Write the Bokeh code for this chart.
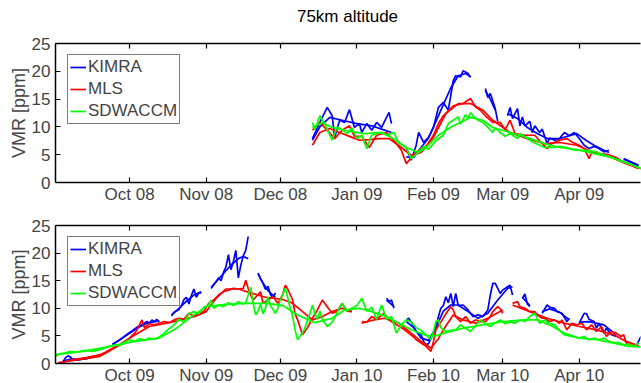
import math
from bokeh.plotting import figure
from bokeh.models import Range1d, FixedTicker, LinearAxis, Legend, LegendItem, Div
from bokeh.layouts import column
from bokeh.embed import file_html
from bokeh.resources import INLINE

GAP = None  # break in a series

# ---- axes ----
month_days = [30, 61, 91, 122, 153, 181, 212]  # days since 1 Sep
top_month_labels = ["Oct 08", "Nov 08", "Dec 08", "Jan 09", "Feb 09", "Mar 09", "Apr 09"]
bot_month_labels = ["Oct 09", "Nov 09", "Dec 09", "Jan 10", "Feb 10", "Mar 10", "Apr 10"]
y_ticks = [0, 5, 10, 15, 20, 25]
series_names = ["KIMRA", "MLS", "SDWACCM"]
series_colors = ["#0000ff", "#ff0000", "#00ff00"]
panel_title = "75km altitude"
y_label = "VMR [ppm]"

# ---- top panel (2008/09) : (day since 1 Sep, VMR) ----
top_kimra_raw = [(104, 7.9), (107, 10.8), (110, 13.5), (112, 12.0), (113, 8.1), (115, 11.2), (117, 10.8),
                 (119, 13.1), (121, 9.9), (123, 10.6), (124, 9.0), (126, 10.6), (128, 9.4), (130, 10.8),
                 (132, 9.9), (135, 12.6), (136, 10.6), GAP,
                 (142, 6.3), (144, 4.0), (146, 6.7), (147, 9.0), (149, 7.2), (151, 8.1), (153, 9.9),
                 (155, 13.5), (157, 14.4), (159, 13.0), (161, 18.3), (162, 19.2), (164, 19.0), (165, 20.1),
                 (167, 19.6), (168, 18.9), GAP,
                 (174, 16.9), (175, 15.3), (176, 16.0), (178, 13.3), (179, 11.0), GAP,
                 (183, 12.0), (184, 13.5), (185, 11.5), (187, 13.3), (188, 10.2), (189, 11.8), (190, 10.2),
                 (192, 11.0), (193, 9.0), (194, 10.2), (196, 9.0), (197, 9.6), (199, 7.0), (200, 8.0),
                 (202, 7.6), (204, 7.9), (206, 9.0), (208, 8.4), (210, 9.0), (212, 7.9), (214, 6.7),
                 (216, 6.1), (218, 6.5), (220, 6.1), (222, 5.5), (224, 5.8), GAP,
                 (230, 4.3), (232, 3.9), (234, 3.5), (236, 3.1)]
top_kimra_fit = [(104, 7.6), (107, 10.0), (111, 11.7), (116, 11.2), (122, 10.6), (128, 10.2), (132, 9.6),
                 (136, 9.0), GAP,
                 (142, 4.6), (145, 4.5), (148, 6.3), (151, 8.0), (154, 11.0), (157, 14.0), (160, 17.0),
                 (163, 19.2), (166, 19.6), (168, 19.0), GAP,
                 (174, 16.5), (176, 15.0), (178, 13.0), GAP,
                 (183, 12.4), (187, 11.5), (191, 9.9), (195, 8.8), (199, 7.9), (204, 7.9), (208, 8.4),
                 (211, 8.8), (215, 7.5), (218, 6.7), (222, 5.8), (224, 5.4), GAP,
                 (230, 4.2), (236, 3.0)]
top_mls_raw = [(104, 9.4), (107, 10.8), (110, 9.4), (113, 7.9), (116, 9.4), (119, 10.2), (121, 8.3),
               (124, 8.3), (127, 6.3), (130, 8.5), (134, 9.0), (138, 7.0), (140, 5.8), (142, 3.4),
               (145, 5.0), (148, 6.1), (150, 6.5), (153, 8.5), (155, 10.6), (157, 12.0), (161, 13.8),
               (165, 14.2), (168, 15.1), (170, 13.6), (172, 13.0), (174, 12.0), (177, 10.8), (180, 10.8),
               (182, 9.5), (184, 11.2), (186, 8.8), (190, 8.5), (194, 8.5), (196, 7.5), (199, 6.1),
               (201, 7.0), (204, 7.6), (207, 7.9), (209, 7.3), (212, 6.7), (214, 6.1), (216, 4.3),
               (217, 5.5), (220, 5.2), (224, 5.0), (227, 4.5), (230, 3.6), (233, 3.1), (236, 2.5)]
top_mls_fit = [(104, 6.7), (107, 9.0), (111, 9.7), (115, 9.0), (119, 8.3), (123, 7.6), (127, 7.7),
               (131, 7.9), (135, 7.9), (140, 6.3), (144, 4.9), (148, 5.4), (153, 8.1), (158, 12.4),
               (163, 14.2), (168, 14.2), (173, 13.0), (177, 11.2), (184, 9.0), (191, 7.9), (198, 7.0),
               (204, 7.2), (211, 6.7), (218, 5.4), (225, 4.5), (231, 3.4), (237, 2.5)]
top_wacc_raw = [(104, 10.8), (105, 9.5), (107, 12.0), (109, 10.5), (112, 7.6), (114, 10.0), (116, 9.5),
                (118, 8.8), (120, 9.8), (122, 7.9), (124, 8.5), (126, 6.1), (128, 8.5), (132, 9.0),
                (134, 8.5), (137, 9.0), (139, 7.0), (142, 6.3), (144, 4.3), (147, 5.5), (149, 6.5),
                (151, 6.0), (154, 7.5), (157, 8.5), (159, 10.6), (161, 11.2), (163, 11.8), (164, 10.5),
                (166, 12.2), (167, 11.5), (168, 12.6), (169, 12.0), (171, 11.2), (173, 10.8), (177, 9.0),
                (178, 9.8), (180, 9.0), (182, 8.3), (184, 8.8), (187, 7.9), (188, 8.8), (191, 7.9),
                (193, 7.3), (196, 6.7), (198, 6.3), (201, 6.3), (204, 6.5), (207, 6.3), (210, 5.8),
                (215, 5.8), (219, 5.5), (223, 4.8), (227, 4.2), (231, 3.6), (237, 2.5)]
top_wacc_fit = [(104, 9.9), (108, 10.8), (112, 9.9), (117, 9.4), (125, 8.8), (132, 9.0), (136, 8.1),
                (142, 6.3), (147, 5.4), (150, 6.3), (155, 8.5), (161, 10.2), (168, 11.7), (173, 11.2),
                (177, 9.9), (184, 9.0), (191, 8.1), (198, 7.0), (204, 6.3), (211, 5.9), (218, 5.2),
                (225, 4.5), (231, 3.5), (237, 2.6)]

# ---- bottom panel (2009/10) ----
bot_kimra_raw = [(3, 0.3), (4, 1.0), (5, 1.4), (6, 1.2), (7, 0.6), (9, 0.6), (11, 0.8), (13, 0.9),
                 (15, 1.2), (16, 1.4), GAP,
                 (23, 3.5), (25, 4.0), (27, 4.6), (29, 5.3), (31, 5.9), (33, 6.6), (35, 7.0), (37, 7.6),
                 (38, 7.3), (39, 7.9), (40, 7.6), (41, 8.0), (42, 7.5), GAP,
                 (47, 8.6), (48, 9.3), (50, 9.8), (51, 10.5), (52, 11.6), (53, 12.0), (54, 10.8),
                 (55, 12.3), (56, 13.5), (57, 12.0), (58, 12.8), (59, 12.8), GAP,
                 (63, 13.6), (64, 14.2), (65, 14.8), (66, 15.5), (67, 15.0), (68, 16.5), (69, 17.5),
                 (70, 19.7), (71, 17.0), (72, 18.5), (73, 20.5), (74, 15.5), (75, 17.8), (76, 19.5),
                 (77, 20.5), (78, 23.0), GAP,
                 (82, 16.4), (83, 15.3), (84, 14.5), (85, 13.4), (86, 14.0), (87, 12.5), (88, 11.8),
                 (89, 12.8), GAP,
                 (134, 11.8), (135, 11.2), (136, 11.5), (137, 10.0), GAP,
                 (142, 7.9), (143, 8.2), (144, 7.5), (146, 5.8), (148, 5.2), (149, 4.0), (150, 3.4),
                 (151, 3.6), (152, 4.6), (153, 5.5), (154, 6.7), (155, 8.5), (156, 10.0), (157, 10.5),
                 (158, 12.1), (159, 11.0), (160, 12.7), (161, 10.3), (162, 12.7), (163, 10.5), (165, 10.6),
                 (167, 9.7), (169, 8.5), (171, 8.8), (173, 8.5), (175, 9.7), (176, 12.4), (177, 14.5),
                 (178, 14.5), (180, 12.7), (181, 13.3), (183, 13.9), (184, 14.2), (185, 12.4), GAP,
                 (189, 11.8), (190, 12.6), (191, 10.8), (192, 10.3), GAP,
                 (197, 9.1), (199, 10.6), (200, 10.2), (202, 10.0), (203, 9.4), (205, 9.1), (207, 7.6),
                 (208, 8.2), GAP,
                 (212, 7.3), (214, 9.1), (215, 9.0), (216, 8.0), (218, 7.6), (219, 6.4), (220, 7.3),
                 (222, 5.5), (223, 6.4), (225, 5.2), (227, 4.9), GAP,
                 (235, 3.1), (237, 4.9)]
bot_kimra_fit = [(3, 0.4), (6, 0.8), (10, 0.8), (16, 1.3), GAP,
                 (23, 3.4), (28, 4.9), (33, 6.4), (37, 7.3), (42, 7.7), GAP,
                 (47, 8.8), (50, 10.0), (53, 11.3), (56, 12.4), (59, 13.0), GAP,
                 (63, 13.8), (67, 15.8), (71, 17.8), (74, 19.0), (76, 19.4), (78, 19.0), GAP,
                 (82, 16.2), (84, 14.6), (86, 13.2), (89, 12.0), GAP,
                 (134, 11.5), (137, 10.3), GAP,
                 (142, 7.6), (145, 6.5), (148, 4.6), (151, 4.2), (154, 6.5), (157, 9.5), (160, 10.6),
                 (163, 10.6), (167, 9.4), (171, 8.2), (175, 9.1), (179, 11.5), (183, 13.6), (185, 13.9), GAP,
                 (189, 12.0), (192, 10.5), GAP,
                 (197, 9.4), (200, 9.9), (204, 9.3), (208, 7.9), GAP,
                 (212, 7.5), (216, 7.6), (222, 7.0), (227, 5.2)]
bot_mls_raw = [(1, 0.1), (3, 0.2), (5, 0.5), (7, 0.7), (9, 0.8), (11, 1.0), (13, 1.1), (15, 1.3),
               (18, 1.6), (20, 2.0), (22, 2.5), (24, 3.0), (26, 3.4), (28, 4.0), (30, 4.6), (32, 5.5),
               (33, 6.1), (34, 7.0), (35, 7.9), (36, 6.5), (38, 7.2), (40, 7.0), (42, 7.3), (44, 7.6),
               (46, 7.4), (48, 7.9), (50, 8.2), (52, 8.0), (54, 9.1), (56, 8.6), (58, 9.0), (60, 9.4),
               (62, 10.9), (64, 11.5), (66, 12.4), (68, 13.0), (70, 13.3), (72, 13.6), (74, 13.5),
               (76, 13.6), (77, 15.1), (78, 13.6), (79, 12.4), (80, 11.5), (81, 12.0), (83, 13.0),
               (84, 10.9), (86, 11.5), (88, 12.1), (90, 10.9), (92, 12.5), (93, 14.2), (94, 13.5),
               (96, 11.5), (97, 9.0), (98, 7.9), (100, 5.2), (102, 6.5), (104, 8.2), (106, 9.7),
               (108, 11.5), (110, 10.3), (112, 9.1), (114, 9.4), (116, 10.9), (118, 9.5), (120, 9.4), GAP,
               (124, 7.6), (126, 7.5), (128, 8.5), (130, 8.0), (133, 9.1), (135, 7.9), (137, 7.3),
               (139, 6.8), (141, 6.2), (143, 5.5), (145, 4.8), (146, 4.3), (148, 3.7), (150, 3.1),
               (152, 2.2), (153, 4.0), (154, 6.1), (156, 7.5), (158, 9.0), (160, 10.3), (161, 9.7),
               (162, 8.5), (164, 7.6), (166, 8.5), (168, 7.3), (170, 7.9), (172, 7.6), (174, 7.6),
               (176, 8.5), (177, 9.4), (179, 10.3), (180, 9.9), (181, 9.1), GAP,
               (185, 10.9), (187, 11.2), (188, 10.3), (190, 10.0), (192, 9.4), (194, 9.4), (195, 8.8),
               (197, 8.2), (198, 8.2), (200, 7.6), (202, 7.9), (204, 7.3), (205, 7.9), (207, 6.1),
               (209, 7.3), (211, 7.0), (213, 7.3), (215, 6.1), (217, 7.0), (219, 5.8), (221, 6.7),
               (223, 4.9), (225, 5.8), (227, 5.5), (229, 4.9), (230, 5.2), (231, 3.7), (233, 3.3),
               (236, 3.1)]
bot_mls_fit = [(1, 0.1), (8, 0.6), (18, 1.3), (24, 2.8), (30, 4.6), (38, 6.7), (45, 7.3), (51, 7.9),
               (57, 8.6), (61, 9.4), (65, 11.8), (69, 13.5), (74, 13.5), (79, 12.8), (85, 12.0),
               (92, 11.6), (96, 10.9), (100, 9.4), (104, 7.9), (108, 8.5), (112, 9.4), (116, 10.0),
               (120, 9.4), GAP,
               (124, 7.3), (128, 7.8), (133, 8.2), (139, 7.3), (144, 5.5), (148, 4.0), (152, 2.8),
               (155, 4.5), (157, 6.1), (161, 8.8), (165, 7.9), (170, 7.3), (175, 8.2), (181, 9.7), GAP,
               (185, 10.6), (192, 9.4), (199, 8.2), (206, 7.3), (212, 6.7), (219, 6.1), (226, 5.2),
               (231, 4.0), (236, 3.2)]
bot_wacc_raw = [(0, 1.3), (2, 1.8), (4, 1.9), (6, 2.2), (8, 2.0), (10, 2.2), (12, 2.4), (15, 2.2),
                (18, 2.5), (20, 2.8), (22, 3.1), (24, 3.4), (26, 3.2), (28, 3.9), (30, 4.3), (32, 4.0),
                (34, 4.5), (36, 4.2), (38, 4.6), (40, 4.4), (42, 4.8), (44, 5.5), (46, 6.3), (48, 7.0),
                (50, 8.0), (52, 7.5), (54, 9.0), (56, 9.4), (58, 9.0), (60, 10.2), (62, 10.6),
                (63, 11.5), (64, 10.0), (66, 10.6), (68, 10.3), (70, 11.0), (72, 10.5), (74, 11.2),
                (76, 10.8), (77, 11.0), (78, 12.4), (79, 13.8), (80, 11.0), (81, 8.8), (82, 9.5),
                (83, 10.8), (84, 9.0), (85, 10.0), (86, 12.1), (87, 10.5), (88, 9.8), (89, 9.1),
                (90, 10.0), (91, 11.5), (92, 12.5), (93, 13.6), (94, 12.0), (95, 10.0), (96, 8.5),
                (97, 6.0), (98, 4.3), (99, 5.0), (100, 5.5), (101, 6.5), (102, 7.9), (103, 9.0),
                (104, 10.6), (105, 9.0), (106, 8.0), (107, 9.5), (108, 8.0), (110, 6.7), (112, 7.5),
                (114, 9.2), (116, 10.9), (118, 9.5), (120, 10.0), (122, 10.5), (124, 11.8), (126, 9.5),
                (128, 10.2), (130, 8.0), (132, 10.6), (134, 8.0), (136, 8.5), (138, 5.5), (140, 7.0),
                (142, 7.9), (144, 7.5), (146, 6.5), (148, 6.0), (150, 5.2), (152, 4.3), (153, 5.8),
                (154, 7.6), (155, 7.9), (156, 6.5), (158, 5.8), (160, 6.0), (162, 6.1), (164, 7.0),
                (166, 6.4), (168, 5.8), (170, 6.8), (172, 7.9), (174, 7.2), (176, 6.7), (178, 7.4),
                (180, 7.9), (182, 7.2), (184, 7.5), (186, 7.3), (188, 7.9), (190, 7.6), (192, 8.5),
                (194, 9.1), (196, 7.3), (198, 7.9), (200, 7.3), (202, 7.0), (204, 6.0), (206, 5.2),
                (208, 5.0), (210, 4.8), (212, 4.6), (214, 4.9), (216, 4.3), (218, 4.6), (220, 4.3),
                (222, 4.6), (224, 4.0), (226, 3.8), (228, 3.8), (230, 3.4), (232, 3.5), (234, 3.1),
                (236, 3.7)]
bot_wacc_fit = [(0, 1.6), (11, 2.2), (22, 3.1), (32, 4.0), (42, 4.6), (49, 6.4), (56, 8.8), (61, 10.3),
                (69, 10.7), (77, 10.9), (86, 10.9), (92, 10.5), (98, 8.8), (105, 7.4), (112, 8.2),
                (117, 9.7), (123, 10.0), (128, 9.4), (134, 8.5), (139, 7.3), (144, 6.1), (150, 5.1),
                (154, 5.0), (158, 5.6), (165, 6.4), (173, 7.0), (181, 7.6), (190, 7.9), (195, 7.9),
                (200, 7.0), (206, 5.5), (212, 4.6), (219, 4.3), (226, 3.7), (232, 3.1), (237, 3.0)]

FONT = "Liberation Sans"
FS = "17px"
X_MAX = 236.8


def split(pairs):
    xs, ys = [], []
    for pt in pairs:
        if pt is None:
            xs.append(math.nan)
            ys.append(math.nan)
        else:
            xs.append(pt[0])
            ys.append(pt[1])
    return xs, ys


def make_panel(labels, data, frame_h, border_top, border_bottom, legend_y):
    p = figure(frame_width=585, frame_height=frame_h,
               min_border_left=55, min_border_right=1,
               min_border_top=border_top, min_border_bottom=border_bottom,
               x_range=Range1d(0, X_MAX), y_range=Range1d(0, 25),
               output_backend="svg", toolbar_location=None,
               x_axis_type=None, y_axis_type=None, margin=0)
    p.background_fill_color = "white"
    p.border_fill_color = "white"
    p.outline_line_color = None
    p.xgrid.visible = False
    p.ygrid.visible = False

    xb = LinearAxis(ticker=FixedTicker(ticks=month_days))
    xb.major_label_overrides = {d: lab for d, lab in zip(month_days, labels)}
    xa = LinearAxis(ticker=FixedTicker(ticks=month_days))
    xa.major_label_text_font_size = "0px"
    xa.major_label_text_color = None
    xa.major_label_standoff = 0
    for ax in (xb, xa):
        ax.major_tick_in = 5
        ax.major_tick_out = 0
        ax.minor_tick_line_color = None
        ax.axis_line_width = 1.5
        ax.major_tick_line_width = 1.2
    xb.major_label_text_font = FONT
    xb.major_label_text_font_size = FS
    xb.major_label_standoff = 2
    p.add_layout(xb, "below")
    p.add_layout(xa, "above")

    ya = LinearAxis(ticker=FixedTicker(ticks=y_ticks))
    ya.major_tick_in = 5
    ya.major_tick_out = 0
    ya.minor_tick_line_color = None
    ya.axis_line_width = 1.5
    ya.major_tick_line_width = 1.2
    ya.major_label_text_font = FONT
    ya.major_label_text_font_size = FS
    ya.major_label_standoff = 5
    ya.axis_label = y_label
    ya.axis_label_text_font = FONT
    ya.axis_label_text_font_size = "18px"
    ya.axis_label_text_font_style = "normal"
    ya.axis_label_standoff = 0
    p.add_layout(ya, "left")

    items = []
    for name, color, (raw, fit) in zip(series_names, series_colors, data):
        rx, ry = split(raw)
        fx, fy = split(fit)
        r = p.line(rx, ry, line_color=color, line_width=1.7)
        p.line(fx, fy, line_color=color, line_width=1.7)
        items.append(LegendItem(label=name, renderers=[r]))

    leg = Legend(items=items, location=(12, legend_y))
    leg.label_text_font = FONT
    leg.label_text_font_size = FS
    leg.border_line_color = "black"
    leg.border_line_width = 1.2
    leg.background_fill_alpha = 1.0
    leg.padding = 2
    leg.spacing = 2
    leg.margin = 0
    leg.glyph_width = 16
    leg.glyph_height = 20
    leg.label_height = 20
    leg.label_standoff = 2
    p.add_layout(leg, "center")
    return p


title_div = Div(
    text=('<div style="margin-left:55px;width:585px;padding-top:7px;text-align:center;'
          'font-family:\'Liberation Sans\';font-size:17px;line-height:20px;color:black;'
          'white-space:nowrap;">' + panel_title + '</div>'),
    width=641, height=30, margin=0)

top = make_panel(top_month_labels,
                 [(top_kimra_raw, top_kimra_fit), (top_mls_raw, top_mls_fit), (top_wacc_raw, top_wacc_fit)],
                 139, 13, 21, 58)
bot = make_panel(bot_month_labels,
                 [(bot_kimra_raw, bot_kimra_fit), (bot_mls_raw, bot_mls_fit), (bot_wacc_raw, bot_wacc_fit)],
                 138, 19, 23, 57)

layout = column(title_div, top, bot, spacing=0, margin=0)
open("out.html", "w").write(file_html(layout, INLINE))
